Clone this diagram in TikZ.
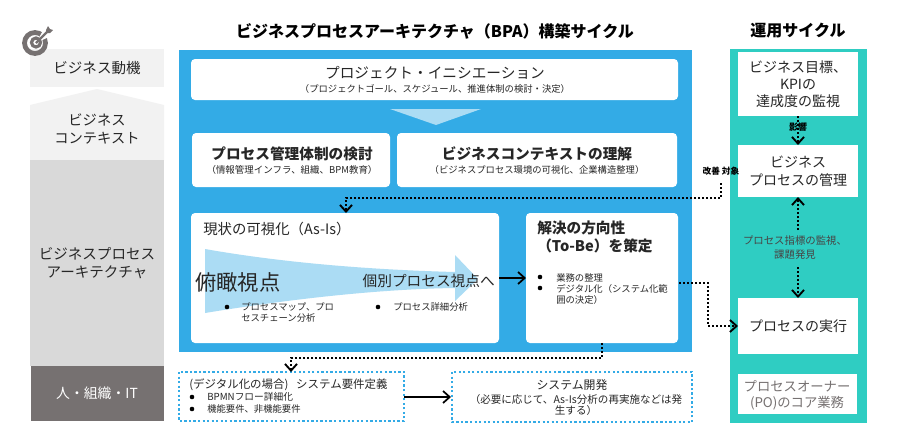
\documentclass[tikz,border=0pt]{standalone}
\usepackage{fontspec}
\setmainfont{Noto Sans CJK JP}
\usetikzlibrary{arrows.meta}
\definecolor{bl}{HTML}{33ABE6}
\definecolor{lb}{HTML}{ABDCF4}
\definecolor{tl}{HTML}{2FCDC2}
\definecolor{lg}{HTML}{F2F2F2}
\definecolor{mg}{HTML}{D9D9D9}
\definecolor{dg}{HTML}{767171}
\definecolor{txt}{HTML}{262626}
\newcommand{\fs}[2][13.5]{\fontsize{#2}{#1}\selectfont}
\tikzset{
 x=0.75pt,y=-0.75pt,
 lbl/.style={inner sep=0pt,align=center,text=txt},
 rbox/.style={fill=white,rounded corners=3pt},
 dot/.style={line width=1.5pt,black,dash pattern=on 1.5pt off 1.5pt},
 tip/.style={-{Straight Barb[length=5pt,width=9pt,line width=1.4pt]}},
 solidarrow/.style={line width=1.3pt,black,-{Straight Barb[length=5pt,width=9pt,line width=1.3pt]}},
 dotbox/.style={draw=bl,line width=1.2pt,dash pattern=on 1.7pt off 1.7pt,fill=white},
}
\begin{document}
\begin{tikzpicture}
\useasboundingbox (0,0) rectangle (900,447);
\fill[white] (0,0) rectangle (900,447);
% left column
\fill[lg] (30,49) rectangle (164,87);
\fill[lg] (30,105) -- (97,89) -- (164,105) -- (164,160) -- (30,160) -- cycle;
\fill[mg] (30,160) rectangle (164,366);
\fill[dg] (31,366) rectangle (164,421);
\node[lbl,font=\fs{10.9}] (lmot) at (97,68) {ビジネス動機};
\node[lbl,font=\fs{10.7}] (lctx) at (97,129) {ビジネス\\コンテキスト};
\node[lbl,font=\fs{10.9}] (lbpa) at (97,263) {ビジネスプロセス\\アーキテクチャ};
\node[lbl,font=\fs{10.4},text=white] (lpeo) at (97,393) {人・組織・IT};
% target icon
\draw[dg,line width=3.6pt] (35,43) circle (10.5);
\fill[white] (36,43) -- (45,27) -- (53,35) -- cycle;
\draw[dg,line width=2.4pt] (36,42.5) circle (4.5);
\draw[dg,line width=1.8pt] (36,43) -- (49,30);
\fill[dg] (46,30) -- (48,26) -- (50,29) -- (53,30) -- (50,33) -- (47,33) -- cycle;
% titles
\node[lbl,font=\bfseries\fs{12},text=black] (t1) at (435,31) {ビジネスプロセスアーキテクチャ（BPA）構築サイクル};
\node[lbl,font=\bfseries\fs{12},text=black] (t2) at (798,31) {運用サイクル};
% blue panel
\fill[bl] (179,50) rectangle (692,352);
\fill[rbox] (191,59) rectangle (678,100);
\fill[lb] (390,109) -- (481,109) -- (436,125) -- cycle;
\fill[rbox] (192,133) rectangle (390,187);
\fill[rbox] (397,133) rectangle (677,187);
\fill[rbox] (191,213) rectangle (499,343);
\fill[rbox] (526,213) rectangle (678,343);
\coordinate (asisE) at (499,278);
\coordinate (tobeW) at (526,278);
\coordinate (tobeE) at (679,283);
\coordinate (tobeS) at (602,343);
\coordinate (asisN) at (346,213);
\node[lbl,font=\fs{11}] (proj) at (435,73) {プロジェクト・イニシエーション};
\node[lbl,font=\fs{7}] (projs) at (435,88.5) {（プロジェクトゴール、スケジュール、推進体制の検討・決定）};
\node[lbl,font=\bfseries\fs{11}] (pm) at (292,154) {プロセス管理体制の検討};
\node[lbl,font=\fs{7.1}] (pms) at (292,169.5) {（情報管理インフラ、組織、BPM教育）};
\node[lbl,font=\bfseries\fs{11}] (bc) at (537,154) {ビジネスコンテキストの理解};
\node[lbl,font=\fs{7}] (bcs) at (537,169.5) {（ビジネスプロセス環境の可視化、企業構造整理）};
\node[lbl,font=\fs{10.8},anchor=west] (asis) at (203,229) {現状の可視化（As-Is）};
% big arrow
\fill[lb] (205,249) .. controls (290,264) and (380,270) .. (455,272) -- (455,255) -- (478,279) -- (455,301) -- (455,288) .. controls (380,289) and (290,299) .. (205,313) -- cycle;
\node[lbl,font=\fs{16},anchor=west] (v1) at (195,282) {俯瞰視点};
\node[lbl,font=\fs{11},anchor=east] (v2) at (495,281) {個別プロセス視点へ};
\fill (227,307) circle (2.3);
\node[lbl,font={\fs[8.25]{7}},anchor=north west,align=left] (b1) at (241,302.5) {プロセスマップ、プロ\\セスチェーン分析};
\fill (378,307) circle (2.3);
\node[lbl,font={\fs[8.25]{7}},anchor=north west] (b2) at (393,302.5) {プロセス詳細分析};
\node[lbl,font=\bfseries\fs{11},anchor=west,align=left] (tobe) at (537,237) {解決の方向性\\（To-Be）を策定};
\fill (540,277) circle (2.3);
\fill (540,288) circle (2.3);
\node[lbl,font={\fs[8.25]{7}},anchor=north west,align=left] (tb1) at (556,273.5) {業務の整理};
\node[lbl,font={\fs[8.25]{7}},anchor=north west,align=left] (tb2) at (556,284.5) {デジタル化（システム化範\\囲の決定）};
% teal panel
\fill[tl] (730,49) rectangle (867,423);
\fill[white] (738,52) rectangle (858,116);
\fill[white] (738,145) rectangle (858,197);
\fill[white] (738,298) rectangle (858,354);
\fill[white] (738,374) rectangle (857,414);
\coordinate (goalS) at (798,116);
\coordinate (mgmtN) at (798,145);
\coordinate (mgmtS) at (798,197);
\coordinate (execN) at (798,298);
\coordinate (execW) at (738,326);
\node[lbl,font={\fs[12.9]{10.5}}] (goal) at (798,84) {ビジネス目標、\\KPIの\\達成度の監視};
\node[lbl,font=\fs{10.5}] (mgmt) at (798,171) {ビジネス\\プロセスの管理};
\node[lbl,font=\fs{10.5}] (exec) at (798,326) {プロセスの実行};
\node[lbl,font={\fs[12.3]{10}},text=dg] (po) at (797,395) {プロセスオーナー\\(PO)のコア業務};
\node[lbl,font={\fs[10]{7.8}},text=dg!60!black] (mon) at (795,247.5) {プロセス指標の監視、\\課題発見};
% dashed boxes
\draw[dotbox] (179,372) rectangle (404,421);
\draw[dotbox] (452,372) rectangle (692,422);
\coordinate (reqE) at (404,397);
\coordinate (devW) at (451,397);
\coordinate (reqN) at (291,372);
\node[lbl,font=\fs{8.6},anchor=west] (req) at (189,385) {(デジタル化の場合)\ \ \ システム要件定義};
\fill (192,397) circle (2.3);
\fill (192,409) circle (2.3);
\node[lbl,font=\fs{7.3},anchor=west] (r1) at (207,397) {BPMNフロー詳細化};
\node[lbl,font=\fs{7},anchor=west] (r2) at (207,409) {機能要件、非機能要件};
\node[lbl,font=\fs{8.9}] (dev) at (572,385) {システム開発};
\node[lbl,font={\fs[8.8]{7.9}}] (devs) at (576,405) {（必要に応じて、As-Is分析の再実施などは発\\生する）};
% connectors
\draw[solidarrow] (asisE) -- (tobeW);
\draw[solidarrow] (reqE) -- (devW);
\draw[dot,tip] (721,183) |- (346,198) -- (asisN);
\draw[dot,tip] (tobeE) -- (708,283) -- (708,326) -- (execW);
\draw[dot,tip] (tobeS) -- (602,358) -- (291,358) -- (reqN);
\draw[dot,tip] (goalS) -- (mgmtN);
\draw[dot,tip] (798,230) -- (mgmtS);
\draw[dot,tip] (798,267) -- (execN);
\node[lbl,font=\bfseries\fs{6.75},text=black] (inf) at (798,127) {影響};
\node[lbl,font=\bfseries\fs{6.5},text=black] (imp) at (721,171) {改善 対象};
\end{tikzpicture}
\end{document}
